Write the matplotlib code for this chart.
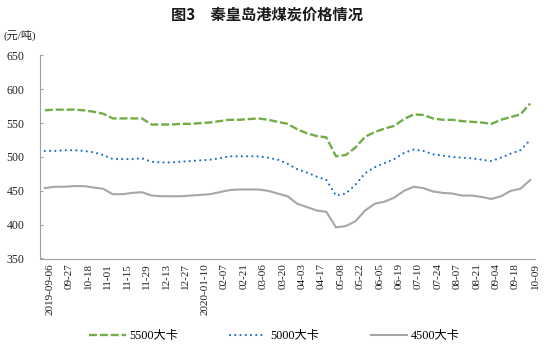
import numpy as np
import matplotlib
matplotlib.use('Agg')
import matplotlib.pyplot as plt
from matplotlib.font_manager import FontProperties

labels = ['2019-09-06', '09-27', '10-18', '11-01', '11-15', '11-29', '12-13', '12-27',
          '2020-01-10', '02-07', '02-21', '03-06', '03-20', '04-03', '04-17', '05-08',
          '05-22', '06-05', '06-19', '07-10', '07-24', '08-07', '08-21', '09-04',
          '09-18', '10-09']

p5500 = [569, 570, 570, 570, 569, 567, 564, 557, 557, 557, 557,
         548, 548, 548, 549, 549, 550, 551, 553, 555, 555,
         556, 557, 555, 552, 549, 541, 535, 531, 529, 501,
         503, 514, 530, 537, 542, 546, 556, 563, 562, 557,
         555, 555, 553, 552, 551, 549, 555, 559, 563, 579]

p5000 = [509, 509, 510, 510, 509, 507, 503, 497, 497, 497, 498,
         493, 492, 492, 493, 494, 495, 496, 498, 501, 501,
         501, 501, 499, 496, 490, 482, 477, 471, 466, 443,
         446, 459, 476, 485, 491, 497, 506, 511, 509, 504,
         502, 500, 499, 498, 496, 494, 499, 505, 510, 525]

p4500 = [454, 456, 456, 457, 457, 455, 453, 445, 445, 447, 448,
         443, 442, 442, 442, 443, 444, 445, 448, 451, 452,
         452, 452, 450, 446, 442, 431, 426, 421, 419, 396,
         398, 405, 421, 431, 434, 440, 450, 456, 454, 449,
         447, 446, 443, 443, 441, 438, 442, 450, 453, 466]

series_names = ['5500大卡', '5000大卡', '4500大卡']

W, H = 547, 349
fig = plt.figure(figsize=(W / 100, H / 100), dpi=100)
ax = fig.add_axes([40 / W, 1 - 258.5 / H, 495 / W, (258.5 - 55.5) / H])

x = np.arange(len(p5500))
ax.plot(x, p5500, color='#70AD47', lw=1.7, ls=(0, (3.4, 1.2)),
        dash_capstyle='butt', label=series_names[0])
ax.plot(x, p5000, color='#1F6FD0', lw=1.6, ls=(0, (0.01, 2.35)),
        dash_capstyle='round', label=series_names[1])
ax.plot(x, p4500, color='#A6A6A6', lw=1.5, label=series_names[2])

ax.set_xlim(-0.5, len(p5500) - 0.5)
ax.set_ylim(350, 650)

serif = FontProperties(family=['Liberation Serif', 'DejaVu Serif'], size=8)
ytick_fp = FontProperties(family=['Liberation Serif', 'DejaVu Serif'], size=8.5)
mixed = FontProperties(family=['Liberation Serif', 'Noto Sans CJK SC'], size=8)
legend_fp = FontProperties(family=['Liberation Serif', 'Noto Sans CJK SC'], size=8.8)

ax.set_yticks(np.arange(350, 651, 50))
for t in ax.get_yticklabels():
    t.set_fontproperties(ytick_fp)
    t.set_color('#222222')

pos = np.arange(len(labels)) * 2 + 0.5
ax.set_xticks(pos)
ax.set_xticklabels(labels, rotation=90, fontproperties=serif, color='#222222')
ax.set_xticks(pos[::5], minor=True)
ax.tick_params(axis='x', which='major', length=0, pad=3.5)
ax.tick_params(axis='x', which='minor', direction='in', length=2.5, color='#A0A0A0', width=0.8)
ax.tick_params(axis='y', direction='in', length=2.5, pad=11, color='#A0A0A0', width=0.8)

for s in ['top', 'right']:
    ax.spines[s].set_visible(False)
for s in ['left', 'bottom']:
    ax.spines[s].set_color('#A0A0A0')
    ax.spines[s].set_linewidth(0.8)

fig.text(267 / W, 1 - 15 / H, '图3　秦皇岛港煤炭价格情况', ha='center', va='center',
         fontsize=11, family=['Noto Sans CJK SC', 'DejaVu Sans'], weight='bold', color='#1a1a1a')
fig.text(3 / W, 1 - 35 / H, '(元/吨)', ha='left', va='center',
         fontproperties=mixed, color='#222222')

handles, lbls = ax.get_legend_handles_labels()
fig.legend(handles, lbls, loc='center', bbox_to_anchor=(274.5 / W, 1 - 336 / H),
           ncol=3, frameon=False, prop=legend_fp, handlelength=3.0, handletextpad=0.3,
           columnspacing=4.2)

fig.savefig('out.png', dpi=100)
